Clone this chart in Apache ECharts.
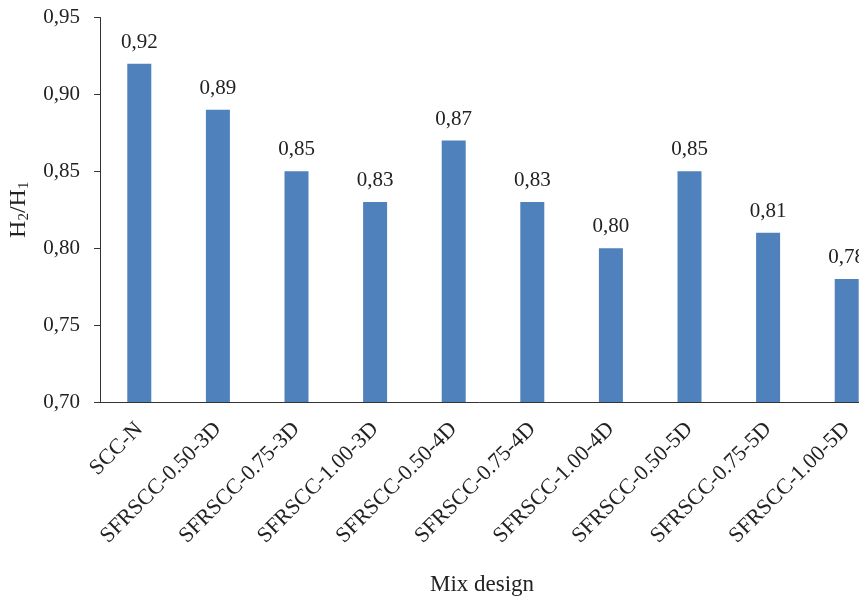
<!DOCTYPE html>
<html><head><meta charset="utf-8">
<script src="https://cdn.jsdelivr.net/npm/echarts@6/dist/echarts.min.js"></script>
<style>html,body{margin:0;padding:0;background:#fff}#c{width:859px;height:599px}</style>
</head><body><div id="c"></div>
<script>
var categories = ['SCC-N','SFRSCC-0.50-3D','SFRSCC-0.75-3D','SFRSCC-1.00-3D','SFRSCC-0.50-4D','SFRSCC-0.75-4D','SFRSCC-1.00-4D','SFRSCC-0.50-5D','SFRSCC-0.75-5D','SFRSCC-1.00-5D'];
var values = [0.92,0.89,0.85,0.83,0.87,0.83,0.80,0.85,0.81,0.78];
var yTicks = [0.70,0.75,0.80,0.85,0.90,0.95];
var fmt = function(v){ return v.toFixed(2).replace('.', ','); };
var FONT = '"Liberation Serif","Times New Roman",serif';
var chart = echarts.init(document.getElementById('c'));
chart.setOption({
  animation: false,
  grid: {left: 100, top: 17.5, width: 786, height: 384.5, containLabel: false, outerBoundsMode: 'none'},
  xAxis: {
    type: 'category', data: categories,
    axisLine: {lineStyle: {color: '#333', width: 1}},
    axisTick: {alignWithLabel: true, length: 5, lineStyle: {color: '#333'}},
    axisLabel: {rotate: 45, interval: 0, fontFamily: FONT, fontSize: 22, color: '#222', margin: 24}
  },
  yAxis: {
    type: 'value', min: yTicks[0], max: yTicks[yTicks.length-1], interval: 0.05,
    axisLine: {show: true, lineStyle: {color: '#333'}},
    axisTick: {show: true, length: 6, lineStyle: {color: '#333'}},
    splitLine: {show: false},
    axisLabel: {formatter: fmt, fontFamily: FONT, fontSize: 21, color: '#222', margin: 20},
    name: '{a|H}{s|2}{a|/H}{s|1}',
    nameLocation: 'middle', nameGap: 68, nameRotate: 90,
    nameTextStyle: {
      rich: {
        a: {fontFamily: FONT, fontSize: 24, color: '#222'},
        s: {fontFamily: FONT, fontSize: 15, color: '#222', padding: [11,0,0,0]}
      }
    }
  },
  graphic: [{type: 'text', x: 482, y: 585, style: {text: 'Mix design', font: '23px ' + FONT, fill: '#222', textAlign: 'center', textVerticalAlign: 'middle'}}],
  series: [{
    type: 'bar', data: values, barWidth: 24,
    itemStyle: {color: '#4F81BD'},
    label: {show: true, position: 'top', distance: 11, formatter: function(p){return fmt(p.value);}, fontFamily: FONT, fontSize: 21, color: '#222'}
  }]
});
</script></body></html>
